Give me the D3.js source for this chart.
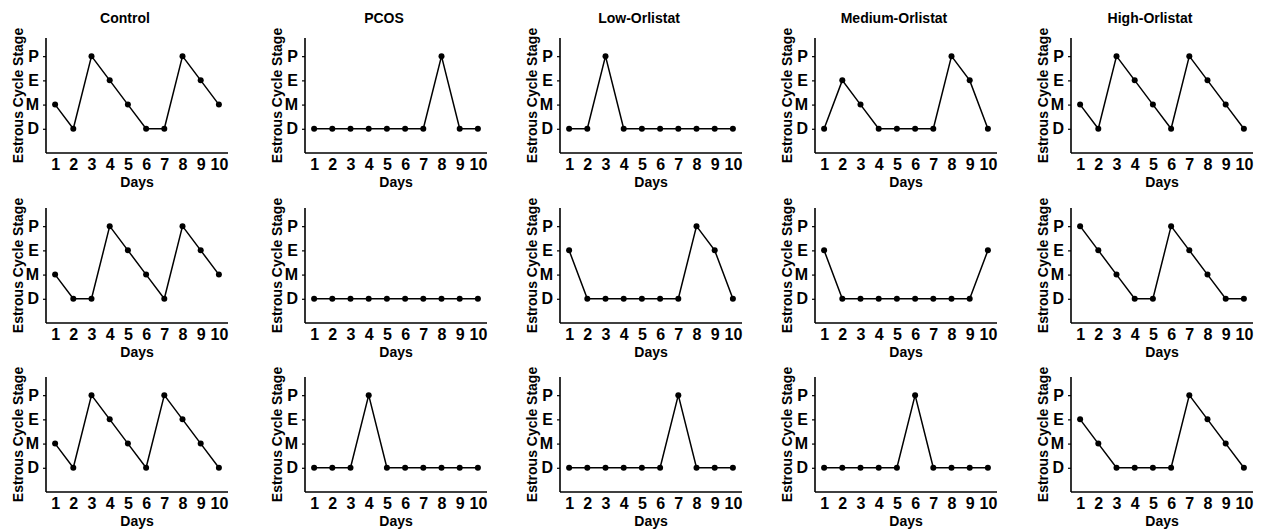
<!DOCTYPE html>
<html>
<head>
<meta charset="utf-8">
<script src="https://cdn.jsdelivr.net/npm/d3@7"></script>
<style>
  body { margin: 0; background: #fff; }
  text { font-family: "Liberation Sans", Arial, sans-serif; font-weight: bold; fill: #000; }
</style>
</head>
<body>
<div id="chart"></div>
<script>
// Data: estrous stage per day (D=1, M=2, E=3, P=4), three animals per group
var groups = ["Control", "PCOS", "Low-Orlistat", "Medium-Orlistat", "High-Orlistat"];
var days = [1, 2, 3, 4, 5, 6, 7, 8, 9, 10];
var stageLabels = ["D", "M", "E", "P"];

var control = [
  [2, 1, 4, 3, 2, 1, 1, 4, 3, 2],
  [2, 1, 1, 4, 3, 2, 1, 4, 3, 2],
  [2, 1, 4, 3, 2, 1, 4, 3, 2, 1]
];
var pcos = [
  [1, 1, 1, 1, 1, 1, 1, 4, 1, 1],
  [1, 1, 1, 1, 1, 1, 1, 1, 1, 1],
  [1, 1, 1, 4, 1, 1, 1, 1, 1, 1]
];
var lowOrlistat = [
  [1, 1, 4, 1, 1, 1, 1, 1, 1, 1],
  [3, 1, 1, 1, 1, 1, 1, 4, 3, 1],
  [1, 1, 1, 1, 1, 1, 4, 1, 1, 1]
];
var mediumOrlistat = [
  [1, 3, 2, 1, 1, 1, 1, 4, 3, 1],
  [3, 1, 1, 1, 1, 1, 1, 1, 1, 3],
  [1, 1, 1, 1, 1, 4, 1, 1, 1, 1]
];
var highOrlistat = [
  [2, 1, 4, 3, 2, 1, 4, 3, 2, 1],
  [4, 3, 2, 1, 1, 4, 3, 2, 1, 1],
  [3, 2, 1, 1, 1, 1, 4, 3, 2, 1]
];
var groupData = [control, pcos, lowOrlistat, mediumOrlistat, highOrlistat];

// Layout
var svgWidth = 1263;
var svgHeight = 531;
var colX = [46, 305, 560, 815, 1071];
var rowY = [38, 208, 377];
var width = 182;
var height = 115;

var svg = d3.select("#chart")
  .append("svg")
  .attr("width", svgWidth)
  .attr("height", svgHeight);

// scales shared by every panel
var xScale = d3.scaleLinear()
  .domain([0.5, 10.5])
  .range([0, width]);

var yScale = d3.scaleLinear()
  .domain([0, 4.75])
  .range([height, 0]);

var line = d3.line()
  .x(d => xScale(d.day))
  .y(d => yScale(d.stage));

groupData.forEach(function(rows, c) {
  rows.forEach(function(values, r) {
    var points = days.map((day, i) => ({ day: day, stage: values[i] }));

    var g = svg.append("g")
      .attr("transform", `translate(${colX[c]}, ${rowY[r]})`);

    // x axis
    var bottomAxis = d3.axisBottom(xScale)
      .tickValues(days)
      .tickSize(0)
      .tickPadding(6)
      .tickFormat(d3.format("d"));

    var xAxis = g.append("g")
      .attr("transform", `translate(0, ${height})`)
      .call(bottomAxis);
    xAxis.select(".domain").attr("stroke-width", 1.6).attr("d", `M0,0H${width}`);
    xAxis.selectAll("text").attr("font-size", "16px").attr("font-family", null);

    // y axis
    var leftAxis = d3.axisLeft(yScale)
      .tickValues([1, 2, 3, 4])
      .tickSize(3)
      .tickPadding(4)
      .tickFormat(d => stageLabels[d - 1]);

    var yAxis = g.append("g").call(leftAxis);
    yAxis.select(".domain").attr("stroke-width", 1.6).attr("d", `M0,0V${height}`);
    yAxis.selectAll("line").attr("stroke-width", 1.2);
    yAxis.selectAll("text").attr("font-size", "16px").attr("font-family", null);

    // line and dots
    g.append("path")
      .datum(points)
      .attr("d", line)
      .attr("fill", "none")
      .attr("stroke", "#000")
      .attr("stroke-width", 1.5);

    g.selectAll("circle")
      .data(points)
      .enter()
      .append("circle")
      .attr("cx", d => xScale(d.day))
      .attr("cy", d => yScale(d.stage))
      .attr("r", 3)
      .attr("fill", "#000");

    // axis labels
    g.append("text")
      .attr("x", width / 2)
      .attr("y", height + 34)
      .attr("text-anchor", "middle")
      .attr("font-size", "14px")
      .text("Days");

    g.append("text")
      .attr("transform", "rotate(-90)")
      .attr("x", -height / 2)
      .attr("y", -23)
      .attr("text-anchor", "middle")
      .attr("font-size", "14px")
      .text("Estrous Cycle Stage");

    // title only on the top row
    if (r === 0) {
      g.append("text")
        .attr("x", width / 2 - 12)
        .attr("y", -15)
        .attr("text-anchor", "middle")
        .attr("font-size", "14px")
        .text(groups[c]);
    }
  });
});
</script>
</body>
</html>
